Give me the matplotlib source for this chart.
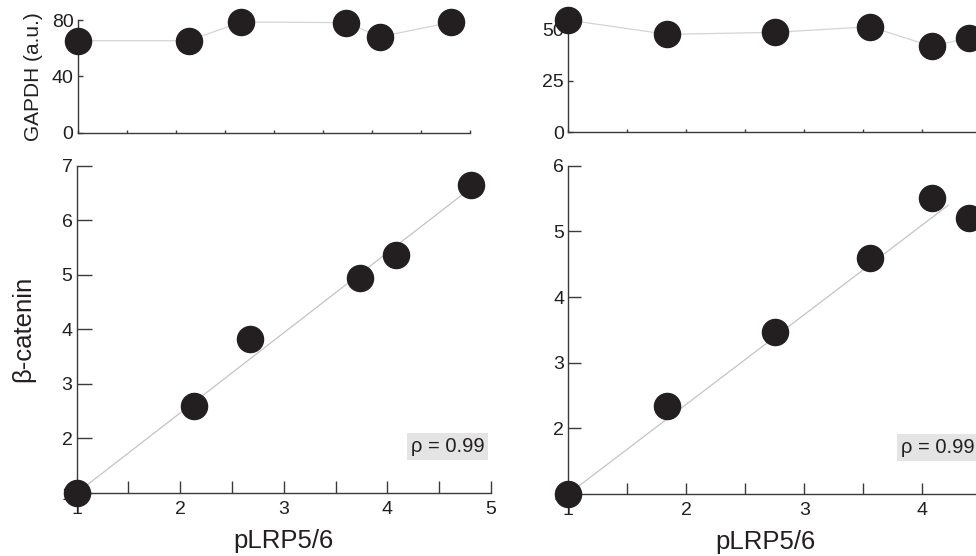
import numpy as np
import matplotlib
matplotlib.use("Agg")
import matplotlib.pyplot as plt

plt.rcParams['font.family'] = ['Liberation Sans', 'DejaVu Sans']

# ---- data ----
x_left = [1.00, 2.13, 2.67, 3.74, 4.08, 4.81]
gapdh_left = [65.3, 65.3, 78.6, 78.1, 68.1, 78.3]
bcat_left = [1.00, 2.60, 3.82, 4.94, 5.37, 6.64]

x_right = [1.00, 1.84, 2.75, 3.56, 4.08, 4.40]
gapdh_right = [54.3, 47.4, 48.4, 51.1, 41.6, 45.8]
bcat_right = [1.00, 2.34, 3.46, 4.60, 5.51, 5.21]

rho_values = [0.99, 0.99]
fit_end = [4.81, 4.22]

gapdh_ticks_left = [0, 40, 80]
gapdh_ticks_right = [0, 25, 50]

# ---- style ----
W, H = 976, 556
INK = '#231f20'
SPINE = '#3a3a3a'
MS = 18.8

fig = plt.figure(figsize=(W / 100, H / 100), dpi=100)


def pos(x0, x1, y0, y1):
    return [x0 / W, 1 - y1 / H, (x1 - x0) / W, (y1 - y0) / H]


def style(ax, xlim, ylim, ylen, xlen):
    ax.set_xlim(*xlim)
    ax.set_ylim(*ylim)
    for s in ['top', 'right']:
        ax.spines[s].set_visible(False)
    for s in ['left', 'bottom']:
        ax.spines[s].set_color(SPINE)
        ax.spines[s].set_linewidth(1.0)
    ax.tick_params(axis='y', direction='in', length=ylen, width=1.0,
                   color=SPINE, labelcolor=INK, labelsize=14, pad=3)
    ax.tick_params(axis='x', direction='in', length=xlen, width=1.0,
                   color=SPINE, labelcolor=INK, labelsize=14, pad=5.5)
    ax.set_facecolor('none')


def top_panel(rect, x, g, xlim, yticks, ylabel=None):
    ax = fig.add_axes(rect)
    style(ax, xlim, (yticks[0], yticks[-1]), 3.5, 2.5)
    ax.set_yticks(yticks)
    ax.set_xticks(np.arange(xlim[0], xlim[1] + 0.01, 0.5))
    ax.set_xticklabels([])
    ax.plot(x, g, color='#d4d4d4', lw=0.9, zorder=3, clip_on=False)
    ax.plot(x, g, 'o', color=INK, ms=MS, mec=INK, zorder=5, clip_on=False)
    if ylabel:
        ax.set_ylabel(ylabel, fontsize=15, color=INK, labelpad=6)
    return ax


def bottom_panel(rect, x, b, xlim, ylim, xend, rho, ylabel=None, xlabel_x=0.5,
                 ylen=10.5, xlen=8.4):
    ax = fig.add_axes(rect)
    style(ax, xlim, ylim, ylen, xlen)
    ax.set_yticks(np.arange(ylim[0], ylim[1] + 1))
    xt = np.arange(xlim[0], xlim[1] + 0.01, 0.5)
    ax.set_xticks(xt)
    ax.set_xticklabels([f'{v:g}' if float(v).is_integer() else '' for v in xt])
    xa = np.asarray(x)
    ba = np.asarray(b)
    dx = xa - xa[0]
    dy = ba - ba[0]
    slope = np.sum(dx * dy) / np.sum(dx * dx)
    xl = np.array([xa[0], xend])
    ax.plot(xl, ba[0] + slope * (xl - xa[0]), color='#c4c4c4', lw=0.9, zorder=3)
    ax.plot(x, b, 'o', color=INK, ms=MS, mec=INK, zorder=5, clip_on=False)
    ax.set_xlabel('pLRP5/6', fontsize=18.5, color=INK)
    ax.xaxis.set_label_coords(xlabel_x, -0.11)
    if ylabel:
        ax.set_ylabel(ylabel, fontsize=18.5, color=INK, labelpad=19)
    ax.text(1.0 - 0.105, 0.142, f'ρ = {rho:.2f}', transform=ax.transAxes,
            ha='center', va='center', fontsize=14.5, color=INK, zorder=6,
            bbox=dict(boxstyle='square,pad=0.2', facecolor='#e4e4e4',
                      edgecolor='none'))
    return ax


top_panel(pos(77.7, 470, 20, 132.7), x_left, gapdh_left, (1, 5),
          gapdh_ticks_left, ylabel='GAPDH (a.u.)')
bottom_panel(pos(76.7, 491, 165.7, 493), x_left, bcat_left, (1, 5), (1, 7),
             fit_end[0], rho_values[0], ylabel='β-catenin')

top_panel(pos(568.3, 981.3, 29, 132.3), x_right, gapdh_right, (1, 4.5),
          gapdh_ticks_right)
bottom_panel(pos(568.3, 981.3, 165.7, 494), x_right, bcat_right, (1, 4.5),
             (1, 6), fit_end[1], rho_values[1], xlabel_x=0.478, ylen=9, xlen=8.2)

fig.savefig('out.png', dpi=100)
